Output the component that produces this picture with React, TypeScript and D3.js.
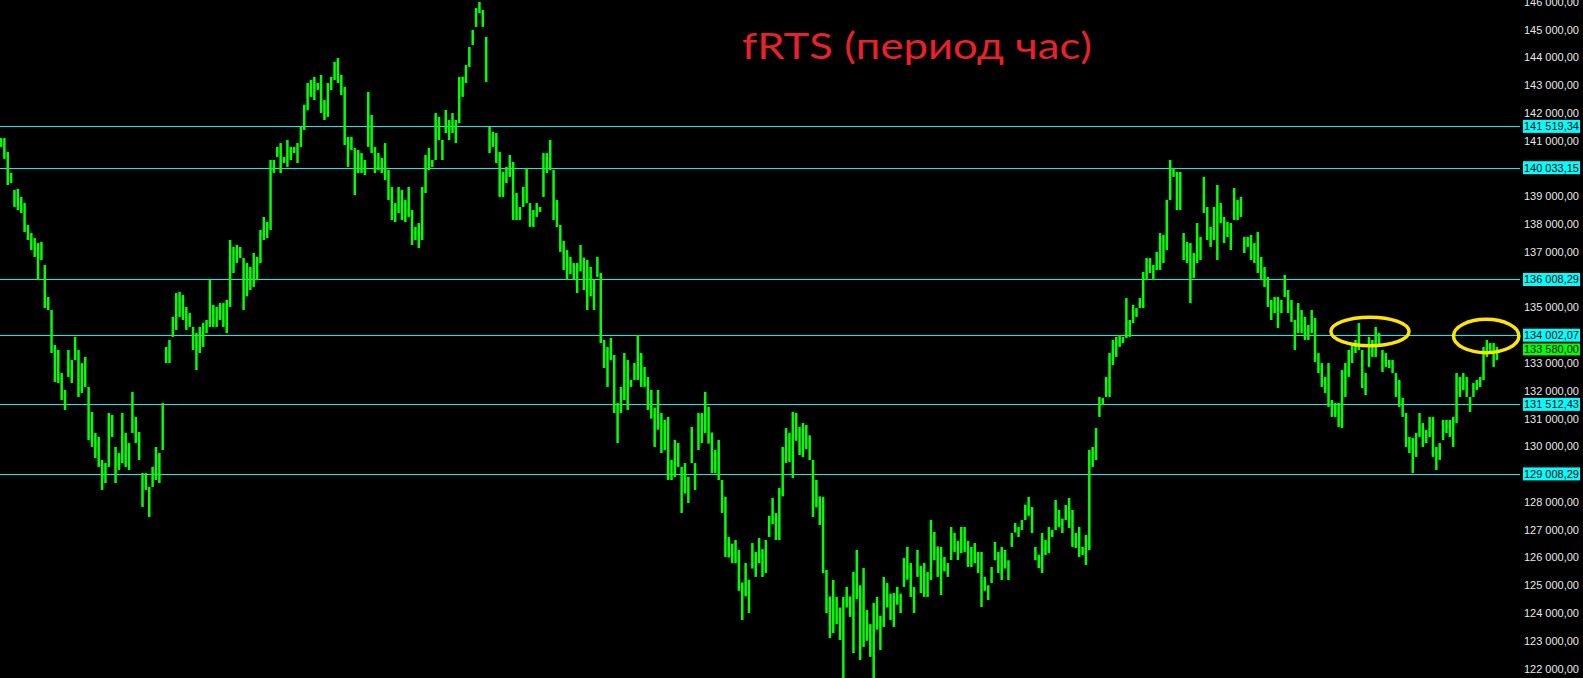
import React from "react";
import * as d3 from "d3";

const W = 1583;
const H = 678;

const title = "fRTS (период час)";

// Horizontal levels drawn on the chart
const levels = [141519.34, 140033.15, 136008.29, 134002.07, 131512.43, 129008.29];
const lastPrice = 133580.0;

// Price axis ticks
const tickValues = [
  122000, 123000, 124000, 125000, 126000, 127000, 128000, 129000, 130000,
  131000, 132000, 133000, 134000, 135000, 136000, 137000, 138000, 139000,
  140000, 141000, 142000, 143000, 144000, 145000, 146000,
];

// Hourly bars: [high, low] in thousands of points
const barsK: [number, number][] = [
  // part 1
  [141.10,140.78],[141.10,140.35],[140.60,139.41],[139.84,139.48],[139.23,138.62],[139.27,138.51],[138.98,138.40],[138.76,137.72],[137.97,137.43],[137.68,137.07],
  [137.50,136.82],[137.32,135.99],[137.36,136.71],[136.53,134.98],[135.38,134.91],[134.91,133.36],[133.65,132.32],[133.47,132.28],[132.64,131.67],[132.03,131.31],
  [133.47,132.50],[133.11,132.28],[133.94,133.11],[133.47,131.78],[133.00,131.92],[133.22,132.14],[132.14,130.23],[131.24,129.98],[130.48,129.58],[130.34,129.26],
  [129.51,128.43],[129.40,128.68],[131.20,129.26],[131.13,130.34],[129.98,128.68],[129.76,129.15],[131.20,129.40],[130.48,129.26],[130.12,129.15],[131.96,130.48],
  [131.06,130.12],[130.52,129.51],[129.04,127.82],[129.04,128.43],[128.54,127.46],[129.26,128.54],[129.98,128.79],[129.76,128.68],[131.56,129.87],[133.58,133.00],
  [133.83,133.00],[134.66,133.94],[135.52,134.19],[135.56,134.66],[135.45,134.55],[135.02,134.19],[134.80,134.30],[134.30,133.47],[134.08,132.75],[134.30,133.36],
  [134.44,133.58],[134.55,134.08],[135.99,134.30],[135.09,134.30],[135.02,134.30],[135.16,134.55],[135.16,134.30],[135.27,134.08],[137.43,135.02],[137.18,136.24],
  [137.25,136.60],[137.18,136.78],[136.78,134.91],[136.60,135.40],
  // part 2
  [136.46,135.63],[136.96,135.74],[136.82,135.99],[137.79,136.60],[138.26,137.43],[138.08,137.50],[140.31,137.79],[140.31,139.84],[140.78,140.42],[140.92,139.84],
  [140.42,140.20],[141.03,140.06],[140.78,140.31],[140.78,140.56],[140.92,140.20],[141.50,140.78],[142.30,141.39],[143.08,142.10],[143.19,142.58],[143.30,142.47],
  [143.08,142.83],[143.37,142.00],[142.47,141.75],[143.08,141.86],[143.30,142.83],[143.84,143.19],[143.98,143.08],[143.37,142.65],[142.94,140.85],[141.14,140.06],
  [141.14,140.67],[140.74,139.05],[140.67,139.84],[140.56,139.84],[140.31,139.77],[142.76,140.78],[141.93,140.56],[140.78,139.84],[140.56,139.95],[140.38,139.84],
  [140.92,139.59],[139.95,138.87],[139.34,138.15],[138.76,138.08],[139.34,138.40],[139.23,138.15],[138.87,138.08],[139.34,138.26],[138.51,137.25],[137.90,137.43],
  [138.04,137.14],[139.34,137.43],[140.49,139.12],[140.74,139.95],[140.31,140.06],[142.00,140.31],[141.86,141.03],[141.03,140.31],[142.11,141.28],[141.75,141.03],
  [142.00,141.28],[141.75,140.92],[143.30,141.64],[143.30,142.58],[143.73,143.08],[144.38,143.66],[144.99,144.45],[145.78,145.10],[146.00,145.60],[145.71,145.10],
  [144.74,143.12],[141.50,140.56],[141.32,140.78],[141.28,140.20],[140.60,138.98],
  // part 3
  [139.88,138.98],[140.06,139.48],[140.49,139.70],[140.24,138.15],[139.12,138.15],[138.62,138.15],[139.34,138.62],[140.02,138.76],[138.76,137.90],[138.51,137.90],
  [138.76,138.26],[138.62,138.44],[140.56,138.98],[140.56,139.84],[141.03,139.95],[139.95,138.15],[138.87,137.90],[137.97,137.00],[137.40,136.35],[137.07,135.99],
  [136.82,136.20],[136.60,135.99],[136.60,135.52],[137.25,136.30],[136.80,135.63],[136.71,134.91],[136.46,135.40],[136.00,134.91],[136.82,136.10],[136.24,133.72],
  [133.83,132.82],[133.58,132.14],[133.90,133.11],[133.29,131.20],[131.56,130.12],[132.14,131.20],[133.36,131.67],[133.11,131.31],[132.39,132.14],[133.00,132.39],
  [134.01,132.39],[133.36,132.14],[132.86,132.14],[132.50,131.31],[132.03,131.00],[131.40,129.98],[132.03,130.60],[131.20,129.76],[130.95,129.87],[131.06,128.79],
  [129.51,128.79],[130.23,128.90],[130.12,129.26],[129.26,127.60],[129.40,128.30],[128.90,127.96],[130.70,129.40],[129.40,128.43],[131.20,129.87],[131.20,130.12],
  [131.96,130.48],[131.42,130.10],[130.50,129.04],[129.87,129.04],[130.23,128.79],[128.79,127.60],[128.18,126.02],[126.74,126.00],[126.50,125.80],[126.63,125.80],
  [126.27,124.80],[125.10,123.75],[125.80,124.60],[125.20,124.00],[126.52,125.60],[126.20,125.30],
  // part 4
  [126.70,125.80],[126.30,125.30],[126.63,125.44],[127.50,126.74],[128.14,127.20],[127.60,126.63],[128.50,126.63],[129.98,128.20],[130.66,129.40],[130.48,129.44],
  [131.24,128.86],[131.20,130.20],[130.70,129.69],[130.84,129.62],[130.77,129.90],[130.40,129.51],[129.51,127.46],[128.79,127.80],[128.20,127.17],[128.18,125.44],
  [125.55,124.00],[124.60,123.10],[125.19,123.28],[124.58,123.60],[124.20,123.03],[124.58,121.66],[124.94,124.20],[124.60,123.86],[125.48,122.56],[126.27,124.50],
  [125.00,122.31],[125.62,122.78],[124.11,123.00],[123.60,122.42],[124.36,121.66],[124.58,123.40],[123.90,122.67],[125.30,123.50],[125.08,124.20],[124.70,123.75],
  [124.72,123.50],[124.94,124.30],[124.70,124.00],[125.98,124.94],[126.38,125.20],[125.80,124.58],[124.94,124.00],[126.27,125.30],[125.70,124.72],[125.80,124.58],
  [125.48,124.58],[127.35,125.19],[126.92,125.90],[126.40,125.30],[126.38,124.65],[126.02,125.50],[125.80,125.30],[127.10,125.91],[126.88,126.20],[126.60,125.91],
  [127.10,126.16],[127.10,126.20],[126.60,125.66],[126.38,125.66],[126.52,125.80],[126.20,125.44],[126.20,124.22],[125.30,124.80],[125.00,124.47],[125.66,125.08],
  [126.56,125.90],[126.20,125.44],[126.38,125.19],[126.27,125.60],[125.90,125.19],[126.88,126.38],[127.24,126.90],[127.10,126.74],[127.35,126.99],[127.90,127.35],
  [128.18,127.50],[127.82,126.88],[126.38,125.90],[126.10,125.62],[126.88,125.44],[126.63,126.09],[127.10,126.16],[126.99,126.74],[128.07,126.99],[127.71,127.10],
  [127.40,126.88],[127.89,127.35],
  // part 5
  [128.14,127.06],[127.71,126.38],[126.88,126.34],[127.10,126.02],[126.38,126.09],[126.81,125.73],[129.87,126.27],[129.98,129.26],[130.66,129.51],[131.78,131.06],
  [131.74,131.49],[132.50,131.78],[133.36,131.78],[133.83,132.93],[133.94,133.22],[134.01,133.58],[133.94,133.72],[135.34,133.90],[134.55,133.94],[135.09,134.44],
  [134.98,134.66],[135.34,134.98],[136.28,134.98],[136.78,135.99],[136.78,136.24],[136.53,135.99],[137.00,136.35],[137.68,136.35],[137.61,136.60],[138.87,137.07],
  [140.31,138.87],[140.02,139.70],[139.88,138.51],[139.88,138.51],[137.68,136.71],[137.36,136.60],[137.32,135.16],[136.96,136.06],[138.04,136.60],[137.54,136.71],
  [139.70,138.40],[138.62,137.43],[137.90,137.18],[138.62,137.43],[139.41,136.71],[138.76,138.04],[138.26,137.32],[138.08,137.54],[138.04,137.07],[139.30,138.15],
  [138.87,138.15],[138.98,138.26],[137.54,136.96],[137.54,137.18],[137.61,136.71],[137.32,136.60],[137.72,136.24],[136.82,135.99],[136.46,135.74],[136.10,135.02],
  [135.27,134.55],[135.38,134.80],[135.38,134.26],[135.27,134.80],[136.17,135.38],[135.63,134.80],[135.27,134.48],[134.55,133.47],[135.16,134.08],[134.91,134.08],
  [134.66,133.83],[134.37,133.83],[134.91,134.08],[134.62,133.04],[133.36,132.64],
  // part 6
  [133.00,132.14],[132.50,131.92],[133.00,131.42],[131.67,131.06],[131.56,131.06],[131.56,130.70],[132.75,130.66],[133.00,131.78],[133.47,132.50],[133.72,133.00],
  [133.83,133.36],[134.44,133.47],[133.47,132.10],[132.64,131.85],[133.94,132.86],[133.83,133.22],[134.30,133.22],[134.08,133.58],[133.47,132.68],[133.36,132.86],
  [133.11,132.82],[133.11,132.64],[132.64,131.78],[132.39,131.42],[131.74,131.06],[131.20,129.98],[130.34,129.76],[130.30,129.04],[130.48,129.62],[131.20,130.34],
  [130.84,129.98],[130.59,130.12],[131.06,130.34],[131.06,129.62],[129.98,129.15],[130.12,129.51],[130.95,130.23],[130.95,130.48],[130.95,130.34],[131.06,129.98],
  [132.64,130.84],[132.50,131.78],[132.64,132.03],[132.50,131.78],[131.78,131.24],[132.28,131.78],[132.39,132.03],[132.50,132.14],[133.58,132.39],[133.83,133.22],
  [133.72,133.36],[133.72,132.86],[133.58,133.11],
];

// Yellow ellipse annotations: centre bar index and price, half-sizes in bars and points
const marks = [
  { bar: 406.3, price: 134136, halfBars: 11.6, halfPrice: 511 },
  { bar: 440.8, price: 133974, halfBars: 9.7, halfPrice: 601 },
];

const ruFmt = d3.formatLocale({
  decimal: ",",
  thousands: " ",
  grouping: [3],
  currency: ["", ""],
}).format(",.2f");

export default function App() {
  const n = barsK.length;
  const x = d3.scaleLinear().domain([0, n - 1]).range([1, 1497]);
  const y = d3.scaleLinear().domain([122000, 146000]).range([668.6, 1.94]);
  const pxPerBar = x(1) - x(0);

  const levelYs = levels.map((v) => y(v));
  const shownTicks = tickValues.filter((t) => levelYs.every((ly) => Math.abs(ly - y(t)) > 9));

  const axisFont = "'Liberation Sans', Arial, sans-serif";
  const lineEnd = 1520;
  const boxX = 1523;
  const boxW = 57;
  const boxH = 13;

  return (
    <svg
      width={W}
      height={H}
      style={{ position: "fixed", left: 0, top: 0, background: "#000", display: "block" }}
    >
      <rect x={0} y={0} width={W} height={H} fill="#000" />
      {/* level lines */}
      {levels.map((v, i) => (
        <line key={"l" + i} x1={0} x2={lineEnd} y1={Math.round(y(v)) + 0.5} y2={Math.round(y(v)) + 0.5} stroke="#00f0f0" strokeWidth={1} shapeRendering="crispEdges" />
      ))}
      {/* bars */}
      <g fill="#00ff00">
        {barsK.map(([hi, lo], i) => {
          const yt = y(hi * 1000);
          const yb = y(lo * 1000);
          return <rect key={i} x={x(i) - 1.25} y={yt} width={2.5} height={Math.max(1, yb - yt)} />;
        })}
      </g>
      {/* ellipses */}
      {marks.map((m, i) => (
        <ellipse
          key={"e" + i}
          cx={x(m.bar)}
          cy={y(m.price)}
          rx={m.halfBars * pxPerBar}
          ry={Math.abs(y(m.price + m.halfPrice) - y(m.price))}
          fill="none"
          stroke="#ffe600"
          strokeWidth={3.5}
        />
      ))}
      {/* title */}
      <text x={742} y={59} fill="#e8212a" fontFamily="Lato, 'Open Sans', sans-serif" fontSize={37} textLength={350} lengthAdjust="spacingAndGlyphs">
        {title}
      </text>
      {/* axis tick labels */}
      <g fontFamily={axisFont} fontSize={11} fill="#e8e8e8">
        {shownTicks.map((t) => (
          <text key={t} x={1579} y={y(t)} textAnchor="end" dominantBaseline="central">
            {ruFmt(t)}
          </text>
        ))}
      </g>
      {/* level labels */}
      <g fontFamily={axisFont} fontSize={11}>
        {levels.map((v, i) => (
          <g key={"lb" + i}>
            <rect x={boxX} y={y(v) - boxH / 2} width={boxW} height={boxH} fill="#00ffff" />
            <text x={1579} y={y(v)} textAnchor="end" dominantBaseline="central" fill="#000">
              {ruFmt(v)}
            </text>
          </g>
        ))}
        <rect x={boxX} y={y(lastPrice) + 3 - boxH / 2} width={boxW} height={boxH - 1} fill="#00ff00" />
        <text x={1579} y={y(lastPrice) + 2.5} textAnchor="end" dominantBaseline="central" fill="#000">
          {ruFmt(lastPrice)}
        </text>
      </g>
    </svg>
  );
}
